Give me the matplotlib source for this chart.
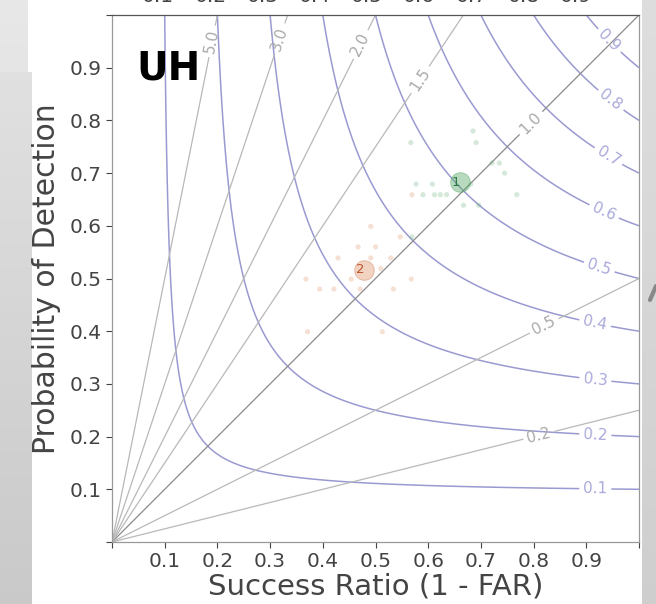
import numpy as np
import matplotlib
matplotlib.use('Agg')
import matplotlib.pyplot as plt

# ---------------- data ----------------
csi_levels = [0.1, 0.2, 0.3, 0.4, 0.5, 0.6, 0.7, 0.8, 0.9]
bias_levels = [0.25, 0.5, 1.0, 1.5, 2.0, 3.0, 5.0]

csi_label_sr = [0.917, 0.917, 0.917, 0.917, 0.926, 0.935, 0.949, 0.954, 0.945]
csi_label_pod = [0.100, 0.200, 0.307, 0.417, 0.526, 0.630, 0.744, 0.848, 0.953]
bias_label_sr = [0.81, 0.82, 0.80, 0.585, 0.472, 0.324, 0.19]
bias_label_pod = [0.203, 0.41, 0.79, 0.877, 0.944, 0.953, 0.95]

g_sr = [0.685, 0.567, 0.691, 0.721, 0.735, 0.745, 0.577, 0.608, 0.681, 0.590,
        0.612, 0.623, 0.635, 0.768, 0.667, 0.696, 0.569]
g_pod = [0.780, 0.758, 0.758, 0.719, 0.719, 0.700, 0.679, 0.679, 0.679, 0.659,
         0.659, 0.659, 0.659, 0.659, 0.639, 0.639, 0.579]
o_sr = [0.569, 0.491, 0.547, 0.467, 0.500, 0.429, 0.491, 0.529, 0.510, 0.454,
        0.568, 0.368, 0.394, 0.421, 0.471, 0.534, 0.371, 0.513]
o_pod = [0.659, 0.599, 0.579, 0.560, 0.560, 0.539, 0.539, 0.539, 0.519, 0.499,
         0.499, 0.499, 0.480, 0.480, 0.480, 0.480, 0.399, 0.399]
mean_sr = [0.660, 0.479]
mean_pod = [0.683, 0.517]
mean_labels = ['1', '2']

tick_vals = [0.0, 0.1, 0.2, 0.3, 0.4, 0.5, 0.6, 0.7, 0.8, 0.9, 1.0]
tick_labels = ['', '0.1', '0.2', '0.3', '0.4', '0.5', '0.6', '0.7', '0.8', '0.9', '']
top_cut_labels = ['0.1', '0.2', '0.3', '0.4', '0.5', '0.6', '0.7', '0.8', '0.9']

# ---------------- figure ----------------
W, H = 656, 604
fig = plt.figure(figsize=(W / 100, H / 100), dpi=100, facecolor='white')

# background (screenshot frame)
bg = fig.add_axes([0, 0, 1, 1], zorder=-10)
bg.set_xlim(0, W)
bg.set_ylim(H, 0)
bg.axis('off')
grad = np.linspace(0.91, 0.80, 256).reshape(-1, 1)
bg.imshow(np.dstack([grad] * 3), extent=(0, 28, H, 0), aspect='auto')
grad2 = np.linspace(0.88, 0.79, 256).reshape(-1, 1)
bg.imshow(np.dstack([grad2] * 3), extent=(0, 32, H, 72), aspect='auto')
grad3 = np.linspace(0.87, 0.81, 256).reshape(-1, 1)
bg.imshow(np.dstack([grad3] * 3), extent=(642, W, H, 0), aspect='auto')
bg.plot([650, 656], [300, 286], color='#555555', lw=3, alpha=0.6, solid_capstyle='round')
bg.set_xlim(0, W)
bg.set_ylim(H, 0)

# cut-off tick labels of the panel above (only their lower edge is visible)
for i, lab in enumerate(top_cut_labels):
    fig.text((158 + 52.2 * i) / W, 1 - 2.5 / H, lab, ha='center', va='baseline',
             fontsize=14.5, color='#444444')

ax = fig.add_axes([112 / W, 1 - 542 / H, 527 / W, 527 / H])
ax.set_facecolor('white')

sr = np.linspace(0.001, 1.0, 600)
pod = np.linspace(0.001, 1.0, 600)
SR, POD = np.meshgrid(sr, pod)
CSI = 1.0 / (1.0 / SR + 1.0 / POD - 1.0)
BIAS = POD / SR

csi_col = '#9a9ad2'
cs = ax.contour(SR, POD, CSI, levels=csi_levels, colors=csi_col, linewidths=1.1)
ax.clabel(cs, fmt='%.1f', fontsize=11, colors='#a9a9dc', inline=True,
          inline_spacing=4, manual=list(zip(csi_label_sr, csi_label_pod)))

bias_cols = ['#b8b8b8' if b != 1.0 else '#8a8a8a' for b in bias_levels]
bs = ax.contour(SR, POD, BIAS, levels=bias_levels, colors=bias_cols, linewidths=0.9)
ax.clabel(bs, fmt='%.1f', fontsize=11, colors='#aaaaaa', inline=True,
          inline_spacing=4, manual=list(zip(bias_label_sr, bias_label_pod)))

green = '#55a868'
orange = '#dd8452'
ax.scatter(g_sr, g_pod, s=14, color=green, alpha=0.25, edgecolors='none', zorder=3)
ax.scatter(o_sr, o_pod, s=14, color=orange, alpha=0.25, edgecolors='none', zorder=3)
ax.scatter(mean_sr[:1], mean_pod[:1], s=200, color=green, alpha=0.42,
           edgecolors=green, linewidths=0.8, zorder=4)
ax.scatter(mean_sr[1:], mean_pod[1:], s=200, color=orange, alpha=0.36,
           edgecolors='#c97a55', linewidths=0.8, zorder=4)
text_cols = ['#2b7a45', '#c0542a']
for x, y, lab, c in zip(mean_sr, mean_pod, mean_labels, text_cols):
    ax.annotate(lab, (x, y), xytext=(-3, 0), textcoords='offset points',
                ha='center', va='center', fontsize=9.5, color=c, zorder=5)

ax.text(0.047, 0.877, 'UH', fontsize=28, fontweight='bold', color='black',
        ha='left', va='baseline', zorder=6)

ax.set_xlim(0, 1)
ax.set_ylim(0, 1)
ax.set_xticks(tick_vals)
ax.set_xticklabels(tick_labels)
ax.set_yticks(tick_vals)
ax.set_yticklabels(tick_labels)
ax.tick_params(labelsize=14.5, colors='#444444', length=4, width=0.8)
for s in ax.spines.values():
    s.set_color('#999999')
    s.set_linewidth(0.9)
ax.spines['top'].set_color('#555555')
ax.set_xlabel('Success Ratio (1 - FAR)', fontsize=21, color='#444444', labelpad=1)
ax.set_ylabel('Probability of Detection', fontsize=21.5, color='#444444', labelpad=6)

fig.savefig('out.png', dpi=100, facecolor='white')
